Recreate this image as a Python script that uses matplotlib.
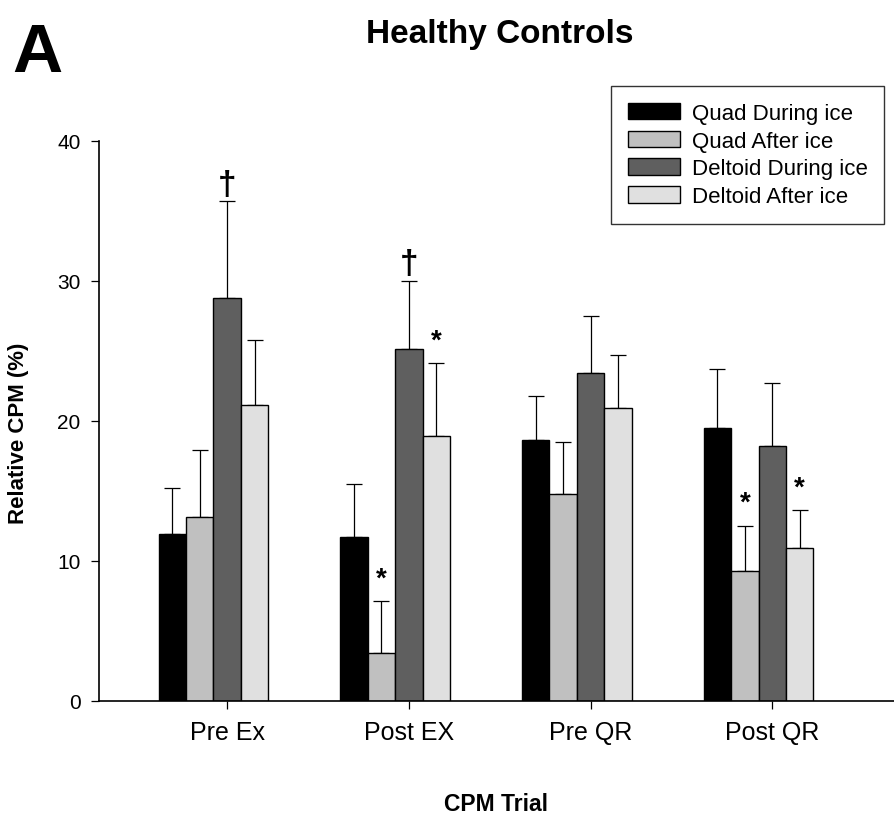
import numpy as np
import matplotlib
matplotlib.use('Agg')
import matplotlib.pyplot as plt

plt.rcParams['font.family'] = ['Liberation Sans', 'DejaVu Sans']

# CPM trials and group means / upper SEM (%)
trials = ['Pre Ex', 'Post EX', 'Pre QR', 'Post QR']
series_names = ['Quad During ice', 'Quad After ice', 'Deltoid During ice', 'Deltoid After ice']
quad_during = [11.9, 11.7, 18.6, 19.5]
quad_during_err = [3.3, 3.8, 3.2, 4.2]
quad_after = [13.1, 3.4, 14.8, 9.3]
quad_after_err = [4.8, 3.7, 3.7, 3.2]
deltoid_during = [28.8, 25.1, 23.4, 18.2]
deltoid_during_err = [6.9, 4.9, 4.1, 4.5]
deltoid_after = [21.1, 18.9, 20.9, 10.9]
deltoid_after_err = [4.7, 5.2, 3.8, 2.7]
series_colors = ['#000000', '#c0c0c0', '#5f5f5f', '#e0e0e0']

# significance marks: (series index, trial index, symbol)
marks = [(2, 0, '\u2020'), (2, 1, '\u2020'),
         (1, 1, '*'), (3, 1, '*'),
         (1, 3, '*'), (3, 3, '*')]

means = [quad_during, quad_after, deltoid_during, deltoid_after]
errs = [quad_during_err, quad_after_err, deltoid_during_err, deltoid_after_err]

fig = plt.figure(figsize=(8.94, 8.2), dpi=100)
ax = fig.add_axes([99 / 894, 1 - 701.7 / 820, 795 / 894, 560 / 820])

x = np.arange(len(trials))
width = 0.151
for k in range(4):
    pos = x + (k - 2) * width
    ax.bar(pos, means[k], width, align='center', color=series_colors[k],
           edgecolor='black', linewidth=1.0, label=series_names[k], zorder=2)
    # only the upper half of the error bar is drawn
    ax.errorbar(pos, means[k], yerr=[np.zeros(len(trials)), errs[k]], fmt='none',
                ecolor='black', elinewidth=0.9, capsize=5.75, capthick=0.9, zorder=1)

for k, i, sym in marks:
    top = means[k][i] + errs[k][i]
    if sym == '*':
        ax.annotate(sym, xy=(i + (k - 2) * width, top), xytext=(0, 11.5),
                    textcoords='offset points', ha='center', va='baseline',
                    fontsize=20, fontweight='bold')
    else:
        ax.annotate(sym, xy=(i + (k - 2) * width, top), xytext=(0, 1),
                    textcoords='offset points', ha='center', va='bottom',
                    fontsize=24, fontweight='bold')

ax.set_xlim(-0.705, 3.67)
ax.set_ylim(0, 40)
ax.set_xticks(x)
ax.set_xticklabels(trials, fontsize=18)
ax.set_yticks([0, 10, 20, 30, 40])
ax.tick_params(axis='x', direction='out', length=5.8, width=0.9, pad=8)
ax.tick_params(axis='y', direction='out', length=5.8, width=0.9, pad=7.5, labelsize=15)
for side in ['top', 'right']:
    ax.spines[side].set_visible(False)
for side in ['left', 'bottom']:
    ax.spines[side].set_linewidth(1.2)

ax.set_ylabel('Relative CPM (%)', fontsize=16, fontweight='bold')
ax.yaxis.set_label_coords(-0.088, 0.48)
ax.set_xlabel('CPM Trial', fontsize=16.5, fontweight='bold')
ax.xaxis.set_label_coords(0.5, -0.163)

fig.text(500 / 894, 1 - 43 / 820, 'Healthy Controls', ha='center', va='baseline',
         fontsize=24, fontweight='bold')
fig.text(12 / 894, 1 - 72 / 820, 'A', ha='left', va='baseline',
         fontsize=50, fontweight='bold')

leg = fig.legend(loc='upper left', bbox_to_anchor=(610.7 / 894, 1 - 86.7 / 820),
                 bbox_transform=fig.transFigure, borderaxespad=0, fontsize=16,
                 frameon=True, fancybox=False, edgecolor='black',
                 handlelength=2.34, handleheight=0.77, handletextpad=0.54,
                 labelspacing=0.31, borderpad=0.76)
leg.get_frame().set_linewidth(1.0)

plt.savefig('out.png', dpi=100)
